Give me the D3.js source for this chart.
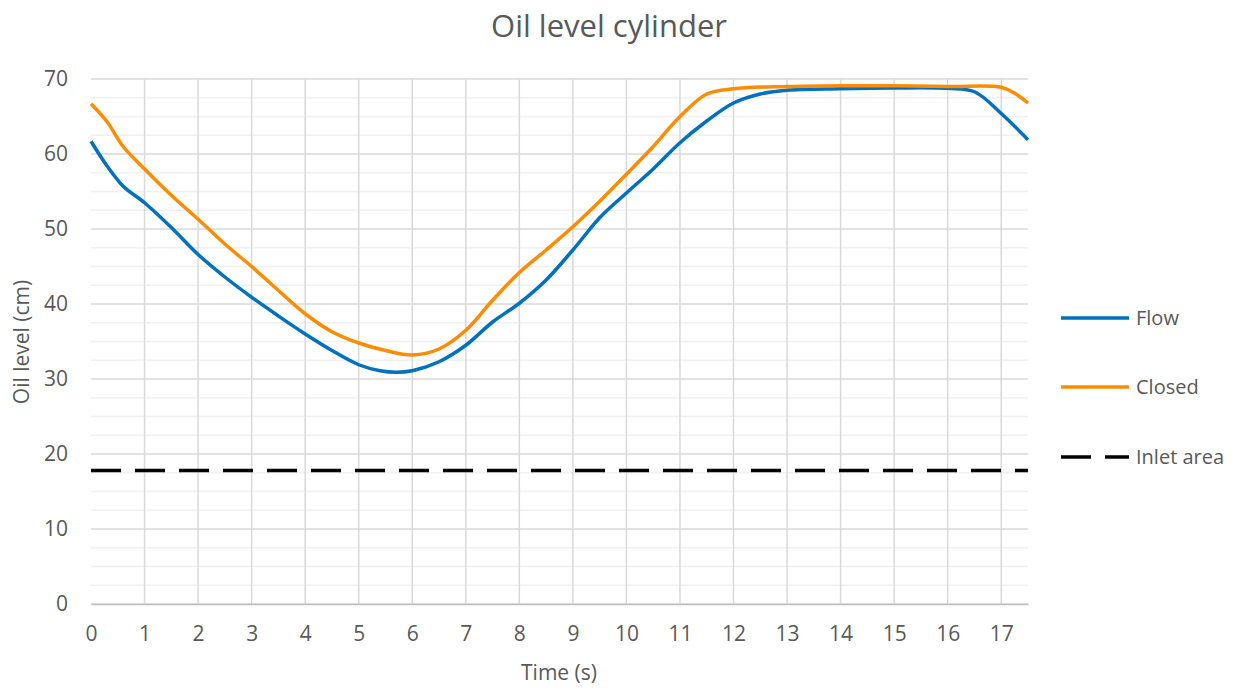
<!DOCTYPE html>
<html>
<head>
<meta charset="utf-8">
<script src="https://cdn.jsdelivr.net/npm/d3@7"></script>
<style>
    body { margin: 0; background: #fff; }
    text { font-family: "Open Sans", Lato, sans-serif; fill: #595959; }
</style>
</head>
<body>
<div id="chart"></div>
<script>
// Data
const flowTime = [0, 0.3, 0.6, 1, 1.5, 2, 2.5, 3, 3.5, 4, 4.5, 5, 5.4, 5.7, 6, 6.5, 7, 7.5, 8, 8.5, 9, 9.5, 10, 10.5, 11, 11.5, 12, 12.5, 13, 14, 15, 16, 16.5, 17, 17.5];
const flowLevel = [61.7, 58.4, 55.7, 53.5, 50.2, 46.6, 43.6, 40.9, 38.4, 36, 33.8, 31.9, 31.1, 30.9, 31.1, 32.3, 34.5, 37.6, 40.1, 43.2, 47.2, 51.5, 54.8, 58, 61.5, 64.4, 66.8, 68, 68.5, 68.7, 68.8, 68.75, 68.3, 65.4, 61.9];

const closedTime = [0, 0.3, 0.6, 1, 1.5, 2, 2.5, 3, 3.5, 4, 4.5, 5, 5.5, 6, 6.5, 7, 7.5, 8, 8.5, 9, 9.5, 10, 10.5, 11, 11.5, 12, 13, 14, 15, 16, 17, 17.25, 17.5];
const closedLevel = [66.7, 64.3, 61, 58, 54.5, 51.3, 48, 45, 41.8, 38.7, 36.3, 34.8, 33.8, 33.2, 34, 36.5, 40.5, 44.2, 47.2, 50.3, 53.7, 57.3, 61, 65, 68, 68.7, 69, 69.1, 69.1, 69, 68.9, 68.1, 66.8];

const inletTime = [0, 17.5];
const inletLevel = [17.8, 17.8];

const xTicks = d3.range(0, 18, 1);
const yTicks = d3.range(0, 71, 10);
const yMinorTicks = d3.range(0, 70.1, 2.5);

const seriesNames = ['Flow', 'Closed', 'Inlet area'];
const seriesColors = ['#0070c0', '#ff8c00', '#000000'];

const width = 1239, height = 691;
const margin = { top: 79, right: 211, bottom: 87, left: 91 };
const innerW = width - margin.left - margin.right;
const innerH = height - margin.top - margin.bottom;

const svg = d3.select('#chart').append('svg')
    .attr('width', width)
    .attr('height', height);

const g = svg.append('g')
    .attr('transform', `translate(${margin.left}, ${margin.top})`);

const x = d3.scaleLinear().domain([0, 17.5]).range([0, innerW]);
const y = d3.scaleLinear().domain([0, 70]).range([innerH, 0]);

// Minor horizontal gridlines
g.append('g')
    .selectAll('line')
    .data(yMinorTicks.filter(v => v % 10 !== 0))
    .join('line')
    .attr('x1', 0).attr('x2', innerW)
    .attr('y1', d => y(d)).attr('y2', d => y(d))
    .attr('stroke', '#f0f0f0')
    .attr('stroke-width', 1.5);

// Major gridlines
g.append('g')
    .selectAll('line')
    .data(yTicks)
    .join('line')
    .attr('x1', 0).attr('x2', innerW)
    .attr('y1', d => y(d)).attr('y2', d => y(d))
    .attr('stroke', '#d9d9d9')
    .attr('stroke-width', 1.5);

g.append('g')
    .selectAll('line')
    .data(xTicks.filter(d => d > 0))
    .join('line')
    .attr('x1', d => x(d)).attr('x2', d => x(d))
    .attr('y1', 0).attr('y2', innerH)
    .attr('stroke', '#d9d9d9')
    .attr('stroke-width', 1.5);

// Axes
const xAxis = g.append('g')
    .attr('transform', `translate(0, ${innerH})`)
    .call(d3.axisBottom(x).tickValues(xTicks).tickSize(0).tickPadding(22).tickFormat(d3.format('d')));
xAxis.select('.domain').attr('stroke', '#bfbfbf').attr('stroke-width', 1.5);

const yAxis = g.append('g')
    .call(d3.axisLeft(y).tickValues(yTicks).tickSize(0).tickPadding(23));
yAxis.select('.domain').remove();

svg.selectAll('.tick text')
    .attr('font-size', 21)
    .attr('fill', '#595959')
    .style('font-family', '"Open Sans", Lato, sans-serif');

// Lines
const line = d3.line()
    .x(d => x(d[0]))
    .y(d => y(d[1]))
    .curve(d3.curveCatmullRom.alpha(0.5));

g.append('path')
    .datum(d3.zip(flowTime, flowLevel))
    .attr('fill', 'none')
    .attr('stroke', seriesColors[0])
    .attr('stroke-width', 3.5)
    .attr('d', line);

g.append('path')
    .datum(d3.zip(closedTime, closedLevel))
    .attr('fill', 'none')
    .attr('stroke', seriesColors[1])
    .attr('stroke-width', 3.5)
    .attr('d', line);

g.append('path')
    .datum(d3.zip(inletTime, inletLevel))
    .attr('fill', 'none')
    .attr('stroke', seriesColors[2])
    .attr('stroke-width', 3.5)
    .attr('stroke-dasharray', '30,14')
    .attr('d', d3.line().x(d => x(d[0])).y(d => y(d[1])));

// Title and axis titles
svg.append('text')
    .attr('x', 609).attr('y', 37)
    .attr('text-anchor', 'middle')
    .attr('font-size', 31)
    .text('Oil level cylinder');

svg.append('text')
    .attr('x', 559).attr('y', 680)
    .attr('text-anchor', 'middle')
    .attr('font-size', 21)
    .text('Time (s)');

svg.append('text')
    .attr('transform', 'translate(29, 342) rotate(-90)')
    .attr('text-anchor', 'middle')
    .attr('font-size', 21)
    .text('Oil level (cm)');

// Legend
const legendY = [318, 387, 457];
const legend = svg.append('g');
seriesNames.forEach((name, i) => {
    legend.append('line')
        .attr('x1', 1061).attr('x2', 1129)
        .attr('y1', legendY[i]).attr('y2', legendY[i])
        .attr('stroke', seriesColors[i])
        .attr('stroke-width', 3.5)
        .attr('stroke-dasharray', i === 2 ? '30,14' : null);
    legend.append('text')
        .attr('x', 1136).attr('y', legendY[i] + 7)
        .attr('font-size', 20)
        .text(name);
});
</script>
</body>
</html>
